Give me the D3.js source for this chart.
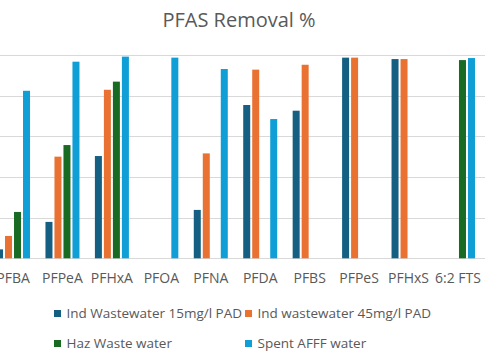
<!DOCTYPE html>
<html>
<head>
<meta charset="utf-8">
<script src="https://cdn.jsdelivr.net/npm/d3@7"></script>
<style>
  body { margin: 0; background: #fff; }
  svg { display: block; font-family: "Open Sans", "Noto Sans", sans-serif; }
</style>
</head>
<body>
<div id="chart"></div>
<script>
// categories and series (values in %, null = no bar)
const categories = ["PFBA", "PFPeA", "PFHxA", "PFOA", "PFNA", "PFDA", "PFBS", "PFPeS", "PFHxS", "6:2 FTS", "8:2 FTS"];
const seriesNames = ["Ind Wastewater 15mg/l PAD", "Ind wastewater 45mg/l PAD", "Haz Waste water", "Spent AFFF water"];
const ind15 = [4.4, 17.9, 50.3, null, 23.8, 75.4, 72.6, 98.7, 98.0, null, null];
const ind45 = [11.0, 50.0, 82.9, null, 51.6, 92.8, 95.2, 98.7, 98.0, null, null];
const haz   = [22.8, 55.7, 86.9, null, null, null, null, null, null, 97.5, null];
const afff  = [82.4, 96.7, 99.2, 98.7, 93.1, 68.5, null, null, null, 98.5, null];
const yTicks = [0, 20, 40, 60, 80, 100];

const colors = ["#156082", "#E97132", "#196B24", "#0F9ED5"];
const seriesValues = [ind15, ind45, haz, afff];

const W = 485, H = 360;
const svg = d3.select("#chart").append("svg").attr("width", W).attr("height", H);

// plot area (the picture is cropped, so it runs past both edges)
const x0 = d3.scaleBand().domain(categories).range([-11.7, -11.7 + 49.44 * categories.length]);
const x1 = d3.scaleBand().domain(seriesNames)
  .range([x0.bandwidth() / 2 - 18, x0.bandwidth() / 2 + 18])
  .paddingInner(2 / 9).paddingOuter(1 / 9);
const y = d3.scaleLinear().domain([0, 100]).range([258.3, 55]);

// gridlines
svg.append("g").selectAll("line")
  .data(yTicks)
  .join("line")
  .attr("x1", x0.range()[0]).attr("x2", x0.range()[1])
  .attr("y1", d => Math.round(y(d)) + 0.5).attr("y2", d => Math.round(y(d)) + 0.5)
  .attr("stroke", "#D9D9D9").attr("stroke-width", 1);

// bars
const groups = svg.append("g").selectAll("g")
  .data(categories)
  .join("g")
  .attr("transform", d => "translate(" + x0(d) + ",0)");

groups.selectAll("rect")
  .data((c, i) => seriesNames.map((s, j) => ({ s: s, j: j, v: seriesValues[j][i] })).filter(d => d.v != null))
  .join("rect")
  .attr("x", d => x1(d.s))
  .attr("width", x1.bandwidth())
  .attr("y", d => y(d.v))
  .attr("height", d => y(0) - y(d.v))
  .attr("fill", d => colors[d.j]);

// category labels
svg.append("g").selectAll("text")
  .data(categories)
  .join("text")
  .attr("x", d => x0(d) + x0.bandwidth() / 2)
  .attr("y", 283)
  .attr("text-anchor", "middle")
  .attr("fill", "#595959")
  .style("font-size", "14px")
  .text(d => d);

// title
svg.append("text")
  .attr("x", 239).attr("y", 27)
  .attr("text-anchor", "middle")
  .attr("fill", "#595959")
  .style("font-size", "20px")
  .text("PFAS Removal %");

// legend
const legendPos = [[54, 313.5], [245, 313.5], [54, 343.5], [245, 343.5]];
const legend = svg.append("g").selectAll("g")
  .data(seriesNames)
  .join("g")
  .attr("transform", (d, i) => "translate(" + legendPos[i][0] + "," + legendPos[i][1] + ")");
legend.append("rect")
  .attr("x", 0).attr("y", -3.5).attr("width", 7).attr("height", 7)
  .attr("fill", (d, i) => colors[i]);
legend.append("text")
  .attr("x", 12.5).attr("y", 0).attr("dy", "0.35em")
  .attr("fill", "#595959")
  .style("font-size", "13.5px")
  .text(d => d);
</script>
</body>
</html>
